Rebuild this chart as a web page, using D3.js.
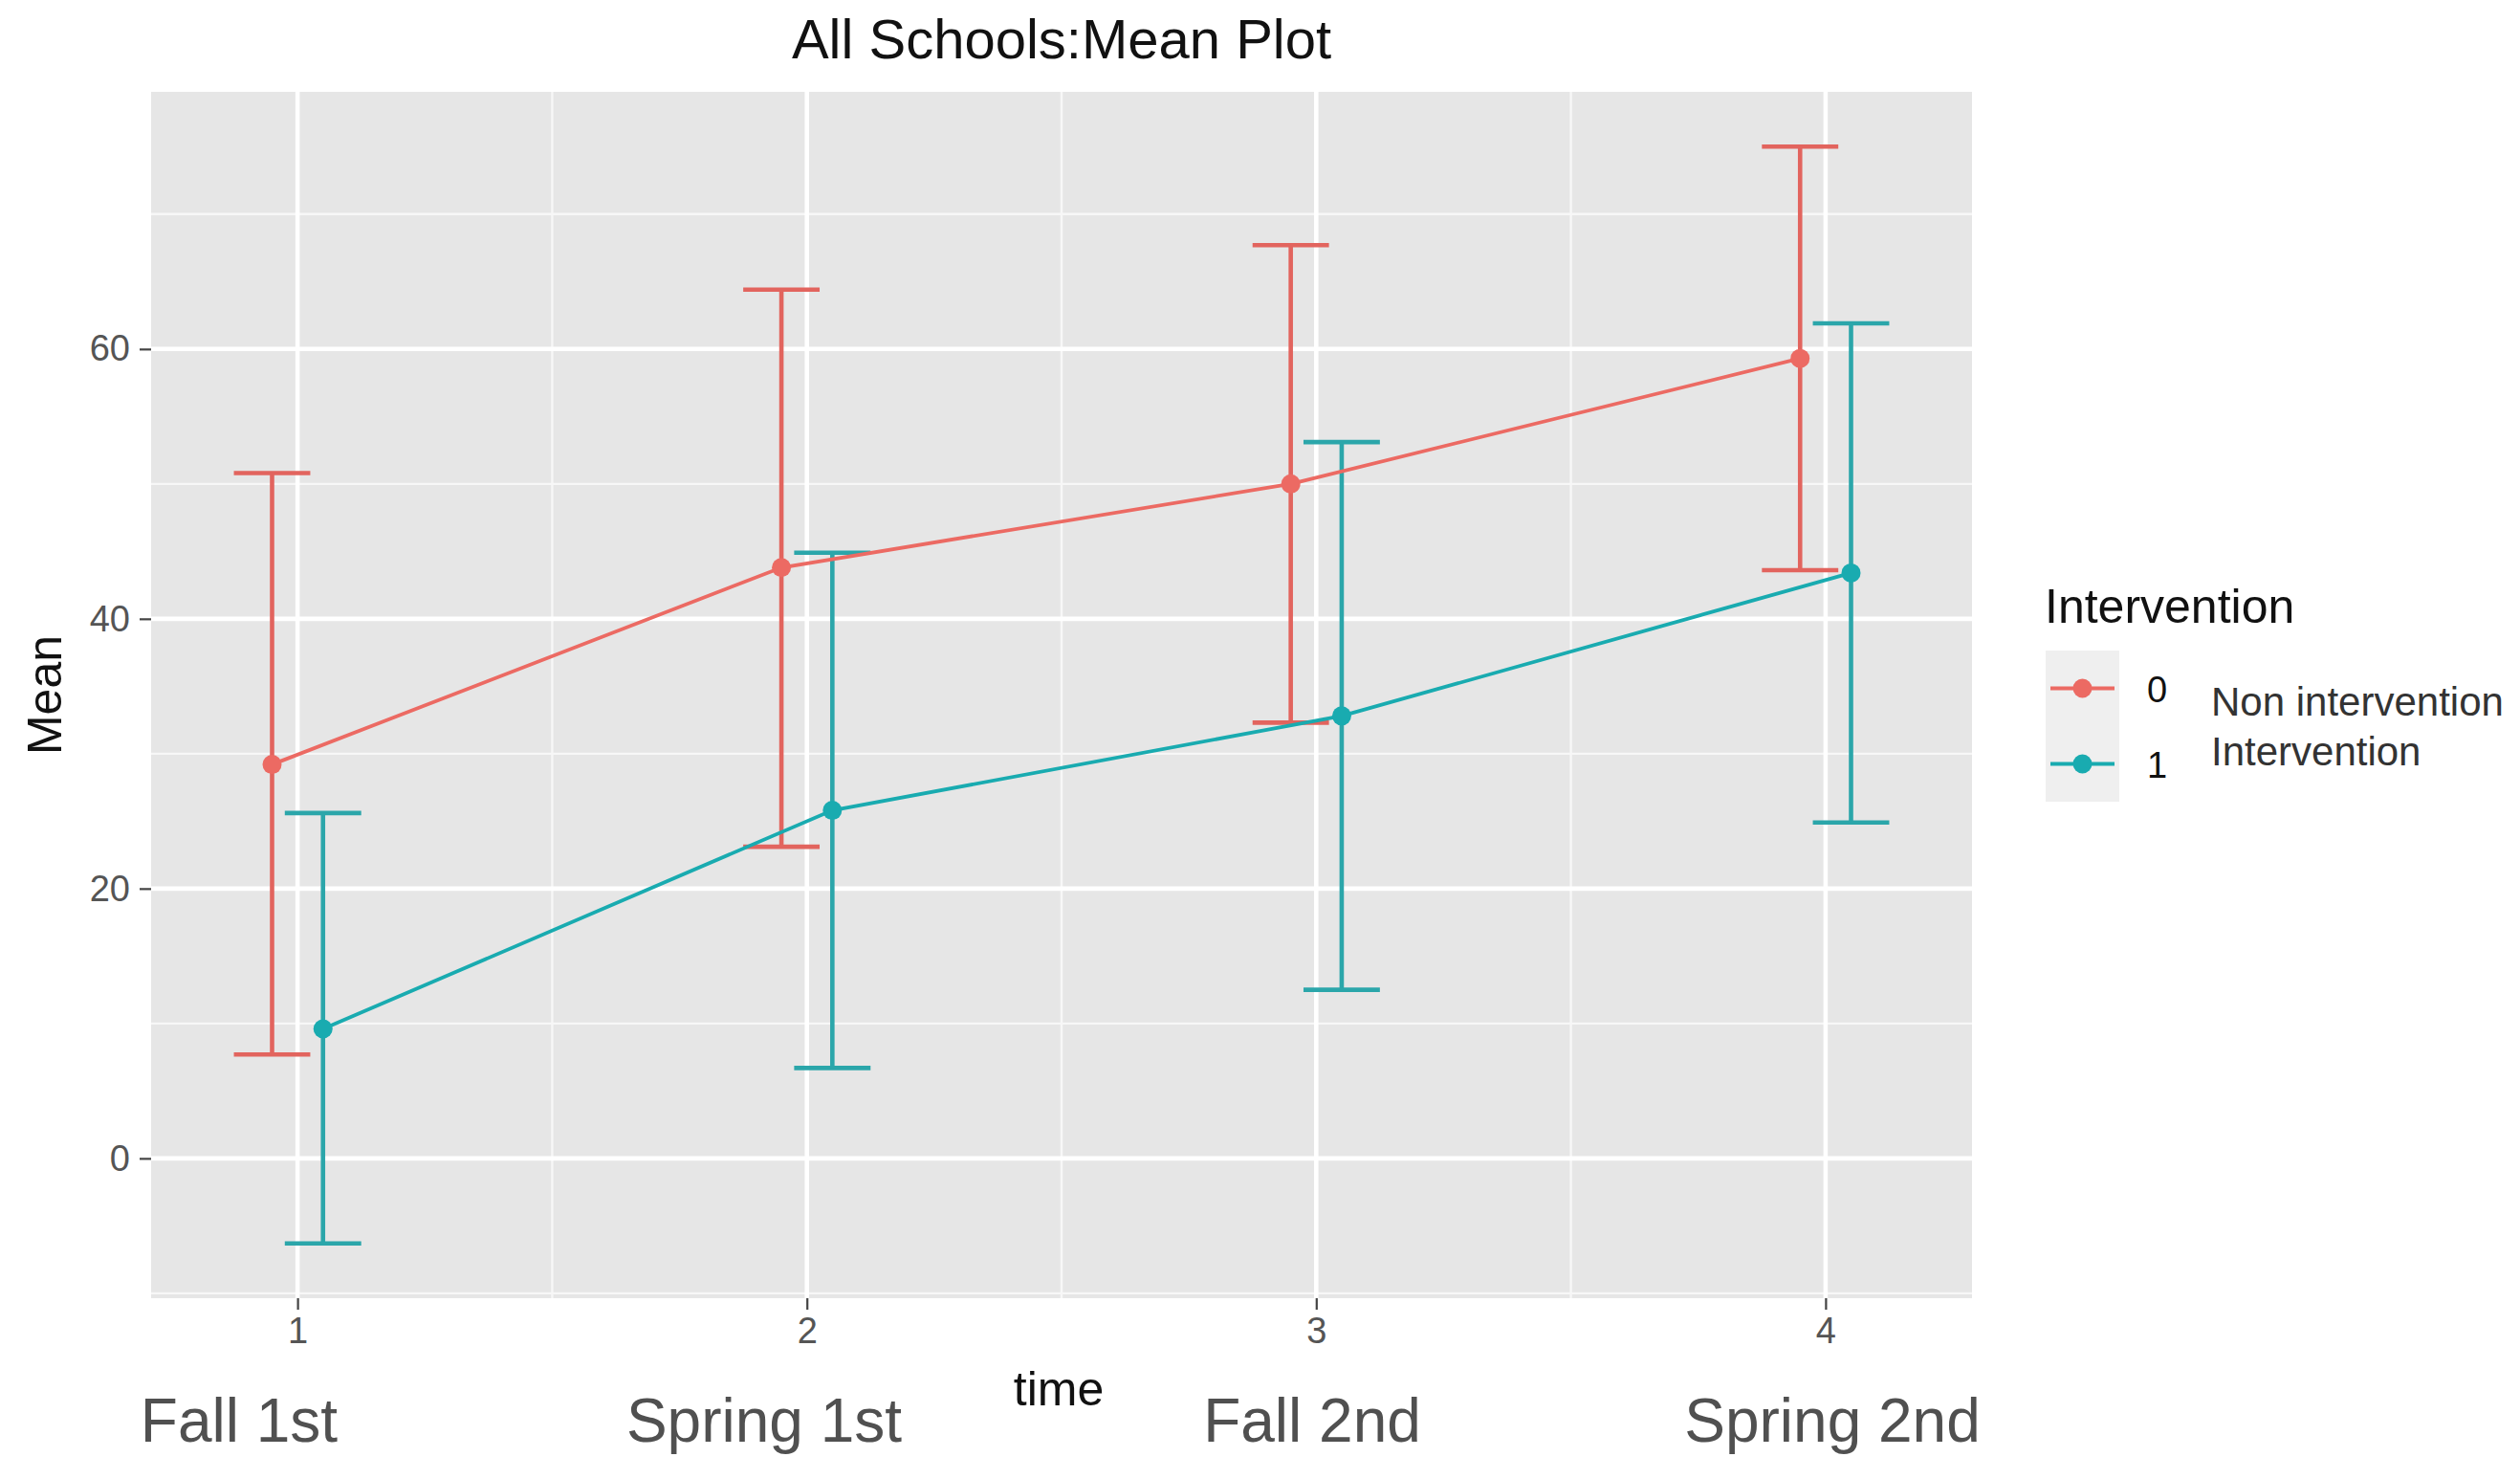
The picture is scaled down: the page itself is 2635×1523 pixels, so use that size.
<!DOCTYPE html>
<html>
<head>
<meta charset="utf-8">
<script src="https://cdn.jsdelivr.net/npm/d3@7"></script>
<style>
  html, body { margin: 0; padding: 0; background: #ffffff; }
  svg { display: block; font-family: "Liberation Sans", Arial, sans-serif; }
</style>
</head>
<body>
<svg id="chart" width="2635" height="1523"></svg>
<script>
// Survey waves and their display labels
const times = [1, 2, 3, 4];
const timeLabels = ["Fall 1st", "Spring 1st", "Fall 2nd", "Spring 2nd"];

// Groups: 0 = non intervention, 1 = intervention
const groupKeys = ["0", "1"];
const groupNames = ["Non intervention", "Intervention"];
const groupColors = ["#EC6A63", "#19ABB0"];
const barColors = ["#E2645E", "#2BA6AA"];

// Group 0 means with lower / upper error bounds
const meanNon  = [29.2, 43.8, 50.0, 59.3];
const lowerNon = [7.7, 23.1, 32.3, 43.6];
const upperNon = [50.8, 64.4, 67.7, 75.0];

// Group 1 means with lower / upper error bounds
const meanInt  = [9.6, 25.8, 32.8, 43.4];
const lowerInt = [-6.3, 6.7, 12.5, 24.9];
const upperInt = [25.6, 44.9, 53.1, 61.9];

const yTicks = [0, 20, 40, 60];
const xTicks = [1, 2, 3, 4];

// ---- layout ----
const W = 2635, H = 1523;
const panel = { left: 158, right: 2062, top: 96, bottom: 1357 };
const dodge = 0.05;       // horizontal offset per group
const capHalf = 0.075;    // half width of error bar caps

const series = [
  { key: groupKeys[0], color: groupColors[0], bar: barColors[0], off: -dodge, mean: meanNon, lo: lowerNon, hi: upperNon },
  { key: groupKeys[1], color: groupColors[1], bar: barColors[1], off:  dodge, mean: meanInt, lo: lowerInt, hi: upperInt }
];

// domains padded by 5% like the usual continuous-scale expansion
const xMin = d3.min(times) - dodge - capHalf, xMax = d3.max(times) + dodge + capHalf;
const xPad = (xMax - xMin) * 0.05;
const yMin = d3.min([...lowerNon, ...lowerInt]), yMax = d3.max([...upperNon, ...upperInt]);
const yPad = (yMax - yMin) * 0.05;

const x = d3.scaleLinear().domain([xMin - xPad, xMax + xPad]).range([panel.left, panel.right]);
const y = d3.scaleLinear().domain([yMin - yPad, yMax + yPad]).range([panel.bottom, panel.top]);

const svg = d3.select("#chart");
svg.append("rect").attr("width", W).attr("height", H).attr("fill", "#ffffff");

// panel background
svg.append("rect")
  .attr("x", panel.left).attr("y", panel.top)
  .attr("width", panel.right - panel.left).attr("height", panel.bottom - panel.top)
  .attr("fill", "#E6E6E6");

// minor grid
const xMinor = [0.5, 1.5, 2.5, 3.5, 4.5].filter(v => v >= x.domain()[0] && v <= x.domain()[1]);
const yMinor = [-10, 10, 30, 50, 70].filter(v => v >= y.domain()[0] && v <= y.domain()[1]);
const grid = svg.append("g");
grid.selectAll(".xminor").data(xMinor).join("line")
  .attr("x1", d => x(d)).attr("x2", d => x(d))
  .attr("y1", panel.top).attr("y2", panel.bottom)
  .attr("stroke", "#f7f7f7").attr("stroke-width", 2.4);
grid.selectAll(".yminor").data(yMinor).join("line")
  .attr("y1", d => y(d)).attr("y2", d => y(d))
  .attr("x1", panel.left).attr("x2", panel.right)
  .attr("stroke", "#f7f7f7").attr("stroke-width", 2.4);
// major grid
grid.selectAll(".xmajor").data(xTicks).join("line")
  .attr("x1", d => x(d)).attr("x2", d => x(d))
  .attr("y1", panel.top).attr("y2", panel.bottom)
  .attr("stroke", "#ffffff").attr("stroke-width", 4.6);
grid.selectAll(".ymajor").data(yTicks).join("line")
  .attr("y1", d => y(d)).attr("y2", d => y(d))
  .attr("x1", panel.left).attr("x2", panel.right)
  .attr("stroke", "#ffffff").attr("stroke-width", 4.6);

// axes
const yAxis = d3.axisLeft(y).tickValues(yTicks).tickSize(12).tickPadding(10).tickFormat(d3.format("d"));
const gy = svg.append("g").attr("transform", `translate(${panel.left},0)`).call(yAxis);
gy.select(".domain").remove();
gy.selectAll("line").attr("stroke", "#444444").attr("stroke-width", 2.2);
gy.selectAll("text").attr("fill", "#555555").attr("font-size", 38);

const xAxis = d3.axisBottom(x).tickValues(xTicks).tickSize(12).tickPadding(8).tickFormat(d3.format("d"));
const gx = svg.append("g").attr("transform", `translate(0,${panel.bottom})`).call(xAxis);
gx.select(".domain").remove();
gx.selectAll("line").attr("stroke", "#444444").attr("stroke-width", 2.2);
gx.selectAll("text").attr("fill", "#555555").attr("font-size", 38);

// error bars
const bars = svg.append("g");
series.forEach(s => {
  const g = bars.append("g").attr("stroke", s.bar).attr("stroke-width", 4.6).attr("fill", "none");
  times.forEach((t, i) => {
    const cx = t + s.off;
    g.append("line").attr("x1", x(cx)).attr("x2", x(cx)).attr("y1", y(s.lo[i])).attr("y2", y(s.hi[i]));
    g.append("line").attr("x1", x(cx - capHalf)).attr("x2", x(cx + capHalf)).attr("y1", y(s.hi[i])).attr("y2", y(s.hi[i]));
    g.append("line").attr("x1", x(cx - capHalf)).attr("x2", x(cx + capHalf)).attr("y1", y(s.lo[i])).attr("y2", y(s.lo[i]));
  });
});

// mean lines
const line = d3.line().x(d => x(d[0])).y(d => y(d[1]));
series.forEach(s => {
  svg.append("path")
    .datum(times.map((t, i) => [t + s.off, s.mean[i]]))
    .attr("d", line).attr("fill", "none")
    .attr("stroke", s.color).attr("stroke-width", 3.8);
});

// mean points
series.forEach(s => {
  svg.append("g").selectAll("circle")
    .data(times.map((t, i) => [t + s.off, s.mean[i]]))
    .join("circle")
    .attr("cx", d => x(d[0])).attr("cy", d => y(d[1])).attr("r", 10)
    .attr("fill", s.color);
});

// title
svg.append("text")
  .attr("x", (panel.left + panel.right) / 2).attr("y", 61)
  .attr("text-anchor", "middle").attr("font-size", 58).attr("fill", "#111111")
  .text("All Schools:Mean Plot");

// axis titles
svg.append("text")
  .attr("x", (panel.left + panel.right) / 2 - 3).attr("y", 1469)
  .attr("text-anchor", "middle").attr("font-size", 50).attr("fill", "#111111")
  .text("time");
svg.append("text")
  .attr("transform", `translate(64,${(panel.top + panel.bottom) / 2}) rotate(-90)`)
  .attr("text-anchor", "middle").attr("font-size", 50).attr("fill", "#111111")
  .text("Mean");

// wave names under the x axis
const waveX = [250, 799, 1372, 1916];
svg.append("g").selectAll("text")
  .data(timeLabels)
  .join("text")
  .attr("x", (d, i) => waveX[i]).attr("y", 1507)
  .attr("text-anchor", "middle").attr("font-size", 64).attr("fill", "#505050")
  .text(d => d);

// legend
const leg = svg.append("g");
leg.append("text")
  .attr("x", 2138).attr("y", 651)
  .attr("font-size", 50).attr("fill", "#111111")
  .text("Intervention");
const keyTop = 680, keySize = 79, keyLeft = 2139, keyW = 77;
series.forEach((s, i) => {
  const ky = keyTop + i * keySize;
  leg.append("rect").attr("x", keyLeft).attr("y", ky).attr("width", keyW).attr("height", keySize).attr("fill", "#EFEFEF");
  const cy = ky + keySize / 2;
  leg.append("line").attr("x1", keyLeft + 5).attr("x2", keyLeft + keyW - 5).attr("y1", cy).attr("y2", cy)
    .attr("stroke", s.color).attr("stroke-width", 3.8);
  leg.append("circle").attr("cx", keyLeft + keyW / 2).attr("cy", cy).attr("r", 10).attr("fill", s.color);
  leg.append("text").attr("x", 2245).attr("y", cy + 14).attr("font-size", 38).attr("fill", "#111111").text(s.key);
});
leg.append("text").attr("x", 2312).attr("y", 748).attr("font-size", 42).attr("fill", "#333333").text(groupNames[0]);
leg.append("text").attr("x", 2312).attr("y", 800).attr("font-size", 42).attr("fill", "#333333").text(groupNames[1]);
</script>
</body>
</html>
